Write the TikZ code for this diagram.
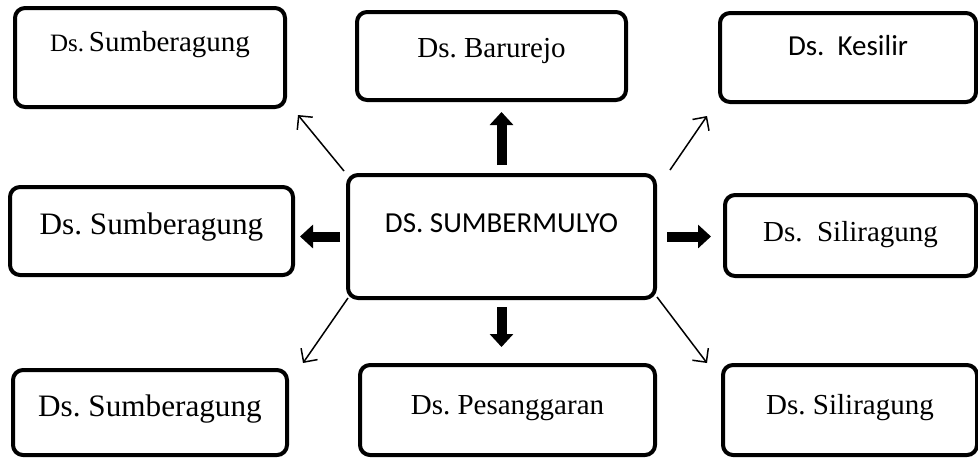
\documentclass[tikz,border=0pt]{standalone}
\usepackage{fontspec}
\setmainfont{Liberation Serif}
\newfontfamily\calibri{Carlito}
\usetikzlibrary{arrows.meta}
\frenchspacing
\tikzset{
	desa/.style={draw, line width=2pt, rounded corners=5pt, inner sep=0pt, align=center, font=\fontsize{14.5}{16}\selectfont},
	tebal/.style={line width=5pt, -{Triangle[length=6.5pt,width=11.5pt]}},
	tipis/.style={line width=0.75pt, -{Straight Barb[length=5pt,width=10pt]}}
}
\begin{document}
\begin{tikzpicture}[x=0.5pt, y=-0.5pt, line join=round]
	\useasboundingbox (0,0) rectangle (978,457);
	% desa pusat
	\node[desa, minimum width=153.5pt, text height=28.5pt, text depth=33pt, font=\calibri\fontsize{14.5}{16}\selectfont] (pusat) at (501.5,236.5) {DS. SUMBERMULYO};
	% baris atas
	\node[desa, minimum width=135pt, text height=21.5pt, text depth=28pt] (kiriatas) at (150,57.5) {{\fontsize{12.5}{14}\selectfont Ds.}\,Sumberagung};
	\node[desa, minimum width=134.5pt, text height=22.5pt, text depth=21.5pt] (atas) at (491.5,56) {Ds. Barurejo};
	\node[desa, minimum width=128pt, text height=21pt, text depth=23.5pt, font=\calibri\fontsize{14.5}{16}\selectfont] (kananatas) at (848,57.5) {Ds.\ \ Kesilir};
	% baris tengah
	\node[desa, minimum width=141.5pt, text height=23.5pt, text depth=20.5pt, font=\fontsize{15.6}{17}\selectfont] (kiri) at (151.5,231) {Ds. Sumberagung};
	\node[desa, minimum width=125.5pt, text height=23pt, text depth=17.5pt] (kanan) at (850.5,235.5) {Ds.\ \ Siliragung};
	% baris bawah
	\node[desa, minimum width=137pt, text height=23pt, text depth=19.5pt, font=\fontsize{15.6}{17}\selectfont] (kiribawah) at (150,412.5) {Ds. Sumberagung};
	\node[desa, minimum width=147.5pt, text height=24.5pt, text depth=20.5pt] (bawah) at (507.5,410) {Ds. Pesanggaran};
	\node[desa, minimum width=127pt, text height=24.5pt, text depth=20.5pt] (kananbawah) at (850,410) {Ds. Siliragung};
	% panah tebal
	\draw[tebal, shorten <=4pt, shorten >=5pt] (pusat.north) -- (pusat.north |- atas.south);
	\draw[tebal, shorten <=3pt, shorten >=2.5pt] (pusat.west) -- (pusat.west -| kiri.east);
	\draw[tebal, shorten <=5pt, shorten >=6pt] (pusat.east) -- (pusat.east -| kanan.west);
	\draw[tebal, shorten <=3.5pt, shorten >=8pt] (pusat.south) -- (pusat.south |- bawah.north);
	% panah tipis
	\draw[tipis] ([xshift=-1pt, yshift=1pt]pusat.north west) -- ([xshift=5.5pt, yshift=-3pt]kiriatas.south east);
	\draw[tipis] ([xshift=6.5pt, yshift=1.5pt]pusat.north east) -- ([xshift=-5.5pt, yshift=-6pt]kananatas.south west);
	\draw[tipis] ([xshift=1pt, yshift=1pt]pusat.south west) -- ([xshift=7pt, yshift=2.5pt]kiribawah.north east);
	\draw[tipis] ([yshift=1.5pt]pusat.south east) -- ([xshift=-7pt]kananbawah.north west);
\end{tikzpicture}
\end{document}
